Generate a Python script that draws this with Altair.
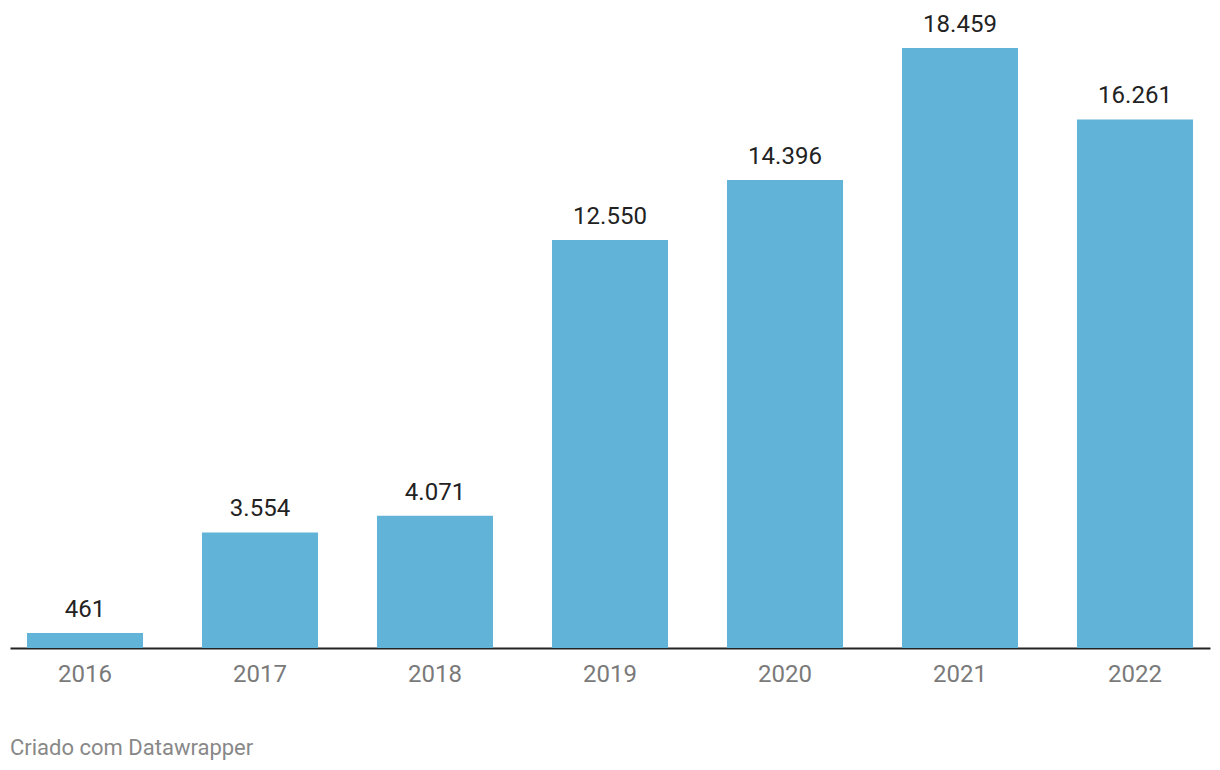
import altair as alt
import pandas as pd

years = ["2016", "2017", "2018", "2019", "2020", "2021", "2022"]
values = [461, 3554, 4071, 12550, 14396, 18459, 16261]

df = pd.DataFrame({"year": years, "value": values})
df["label"] = [f"{v:,}".replace(",", ".") for v in values]

FONT = "Roboto"

x = alt.X("year:N", sort=years, title=None,
          scale=alt.Scale(paddingInner=0.337, paddingOuter=0.097),
          axis=alt.Axis(labelAngle=0, labelFontSize=24, labelColor="#7a7a7a",
                        labelFont=FONT, labelPadding=14, ticks=False,
                        domainColor="#222222", domainWidth=2, grid=False))
y = alt.Y("value:Q", title=None, scale=alt.Scale(domain=[0, 19936], nice=False),
          axis=None)

bars = alt.Chart(df).mark_bar(color="#61b3d8").encode(x=x, y=y)
text = alt.Chart(df).mark_text(dy=-23, fontSize=24, font=FONT, color="#222222",
                               baseline="middle").encode(x=x, y=y, text="label:N")

chart = (bars + text).properties(
    width=1200, height=648,
    background="white",
    padding={"left": 10, "right": 10, "top": 0, "bottom": 122},
    autosize=alt.AutoSizeParams(type="none"),
    title=alt.TitleParams("Criado com Datawrapper", orient="bottom", anchor="start",
                          fontSize=22, font=FONT, fontWeight="normal",
                          color="#888888", offset=52),
).configure_view(stroke=None)

chart.save("out.html", embed_options={"renderer": "svg", "actions": False})
